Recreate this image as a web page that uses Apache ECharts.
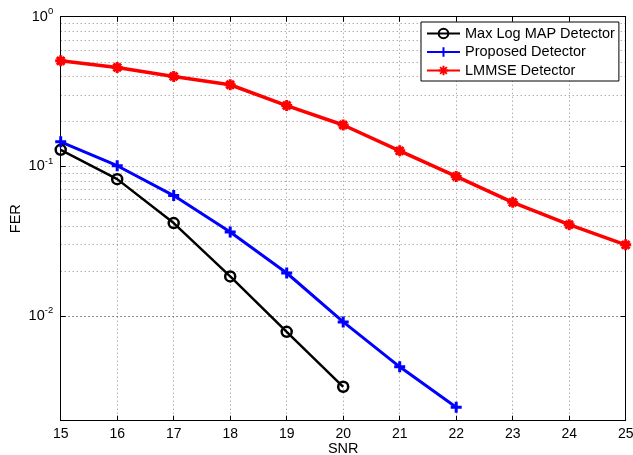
<!DOCTYPE html>
<html>
<head>
<meta charset="utf-8">
<script src="https://cdn.jsdelivr.net/npm/echarts@6/dist/echarts.min.js"></script>
<style>html,body{margin:0;padding:0;background:#fff}#c{width:633px;height:455px}</style>
</head>
<body>
<div id="c"></div>
<script>
// ---- data ----
const snr = [15, 16, 17, 18, 19, 20, 21, 22, 23, 24, 25];
const maxLogMapFer = [0.129, 0.0822, 0.0418, 0.0184, 0.00785, 0.00337];
const proposedFer = [0.146, 0.101, 0.0638, 0.0364, 0.0194, 0.00914, 0.00458, 0.00246];
const lmmseFer = [0.507, 0.458, 0.399, 0.351, 0.255, 0.189, 0.127, 0.0857, 0.0575, 0.0408, 0.0299];
const seriesNames = ['Max Log MAP Detector', 'Proposed Detector', 'LMMSE Detector'];
const yGridValues = [0.003, 0.004, 0.005, 0.006, 0.007, 0.008, 0.009, 0.01,
  0.02, 0.03, 0.04, 0.05, 0.06, 0.07, 0.08, 0.09, 0.1,
  0.2, 0.3, 0.4, 0.5, 0.6, 0.7, 0.8, 0.9];
const yMin = 0.002, yMax = 1;
const xMin = 15, xMax = 25;

function pairs(vals) { return vals.map((v, i) => [snr[i], v]); }

const FONT = 'Liberation Sans, Arial, Helvetica, sans-serif';
const gridColor = '#8a8a8a';

function yLabel(v) {
  const e = Math.round(Math.log10(v));
  if (Math.abs(v - Math.pow(10, e)) / v > 1e-6) return '';
  return '{b|10}{s|' + e + '}';
}

const chart = echarts.init(document.getElementById('c'), null, {renderer: 'canvas'});
chart.setOption({
  animation: false,
  backgroundColor: '#fff',
  textStyle: {fontFamily: FONT},
  grid: {left: 60.7, top: 16.7, right: 7.3, bottom: 34.3, containLabel: false, outerBoundsMode: 'none'},
  legend: {
    data: seriesNames,
    orient: 'vertical',
    left: 421, top: 22,
    padding: [4, 4, 3, 5],
    itemWidth: 33, itemHeight: 12, itemGap: 3.5,
    backgroundColor: '#fff',
    borderColor: '#000', borderWidth: 1,
    textStyle: {fontFamily: FONT, fontSize: 14.5, color: '#000'}
  },
  xAxis: [{
    type: 'value', min: xMin, max: xMax, interval: 1,
    name: 'SNR', nameLocation: 'middle', nameGap: 21, nameMoveOverlap: false,
    nameTextStyle: {fontFamily: FONT, fontSize: 14.5, color: '#000'},
    axisLine: {lineStyle: {color: '#000', width: 1}},
    axisTick: {inside: true, length: 5, lineStyle: {color: '#000'}},
    axisLabel: {fontFamily: FONT, fontSize: 14, color: '#000', margin: 6},
    splitLine: {show: true, lineStyle: {color: gridColor, type: [1, 3], width: 1}}
  }, {
    type: 'value', min: xMin, max: xMax, interval: 1, position: 'top',
    axisLine: {show: true, onZero: false, lineStyle: {color: '#000', width: 1}},
    axisTick: {show: true, inside: true, length: 5, lineStyle: {color: '#000'}},
    axisLabel: {show: false},
    splitLine: {show: false}
  }],
  yAxis: [{
    type: 'log', logBase: 10, min: yMin, max: yMax,
    name: 'FER', nameLocation: 'middle', nameGap: 37.5, nameRotate: 90, nameMoveOverlap: false,
    nameTextStyle: {fontFamily: FONT, fontSize: 14.5, color: '#000'},
    axisLine: {show: true, onZero: false, lineStyle: {color: '#000', width: 1}},
    axisTick: {show: true, inside: true, length: 5, lineStyle: {color: '#000'}},
    axisLabel: {
      formatter: yLabel, margin: 7.5, color: '#000',
      rich: {
        b: {fontFamily: FONT, fontSize: 14.5, color: '#000', verticalAlign: 'bottom', padding: [3, 0, 3, 0]},
        s: {fontFamily: FONT, fontSize: 9.5, color: '#000', verticalAlign: 'top'}
      }
    },
    splitLine: {show: false}
  }, {
    type: 'log', logBase: 10, min: yMin, max: yMax, position: 'right',
    axisLine: {show: true, onZero: false, lineStyle: {color: '#000', width: 1}},
    axisTick: {show: true, inside: true, length: 5, lineStyle: {color: '#000'}},
    axisLabel: {show: false},
    splitLine: {show: false}
  }],
  series: [{
    name: 'grid', type: 'line', data: [], xAxisIndex: 0, yAxisIndex: 0, z: 0,
    silent: true,
    markLine: {
      silent: true, symbol: 'none', animation: false, z: 0,
      label: {show: false},
      lineStyle: {color: gridColor, type: [1, 3], width: 1},
      data: yGridValues.map(v => ({yAxis: v}))
    }
  }, {
    name: seriesNames[0], type: 'line', data: pairs(maxLogMapFer), z: 3,
    symbol: 'circle', symbolSize: 10,
    lineStyle: {color: '#000', width: 2.5},
    itemStyle: {color: 'rgba(0,0,0,0)', borderColor: '#000', borderWidth: 2.5}
  }, {
    name: seriesNames[1], type: 'line', data: pairs(proposedFer), z: 3,
    symbol: 'path://M5,0L5,10M0,5L10,5', symbolSize: 11,
    lineStyle: {color: '#0000ff', width: 3},
    itemStyle: {color: '#0000ff', borderColor: '#0000ff', borderWidth: 3}
  }, {
    name: seriesNames[2], type: 'line', data: pairs(lmmseFer), z: 3,
    symbol: 'path://M0,5L10,5M5,0L5,10M1.5,1.5L8.5,8.5M1.5,8.5L8.5,1.5', symbolSize: 11,
    lineStyle: {color: '#ff0000', width: 3.5},
    itemStyle: {color: '#ff0000', borderColor: '#ff0000', borderWidth: 3}
  }]
});
</script>
</body>
</html>
